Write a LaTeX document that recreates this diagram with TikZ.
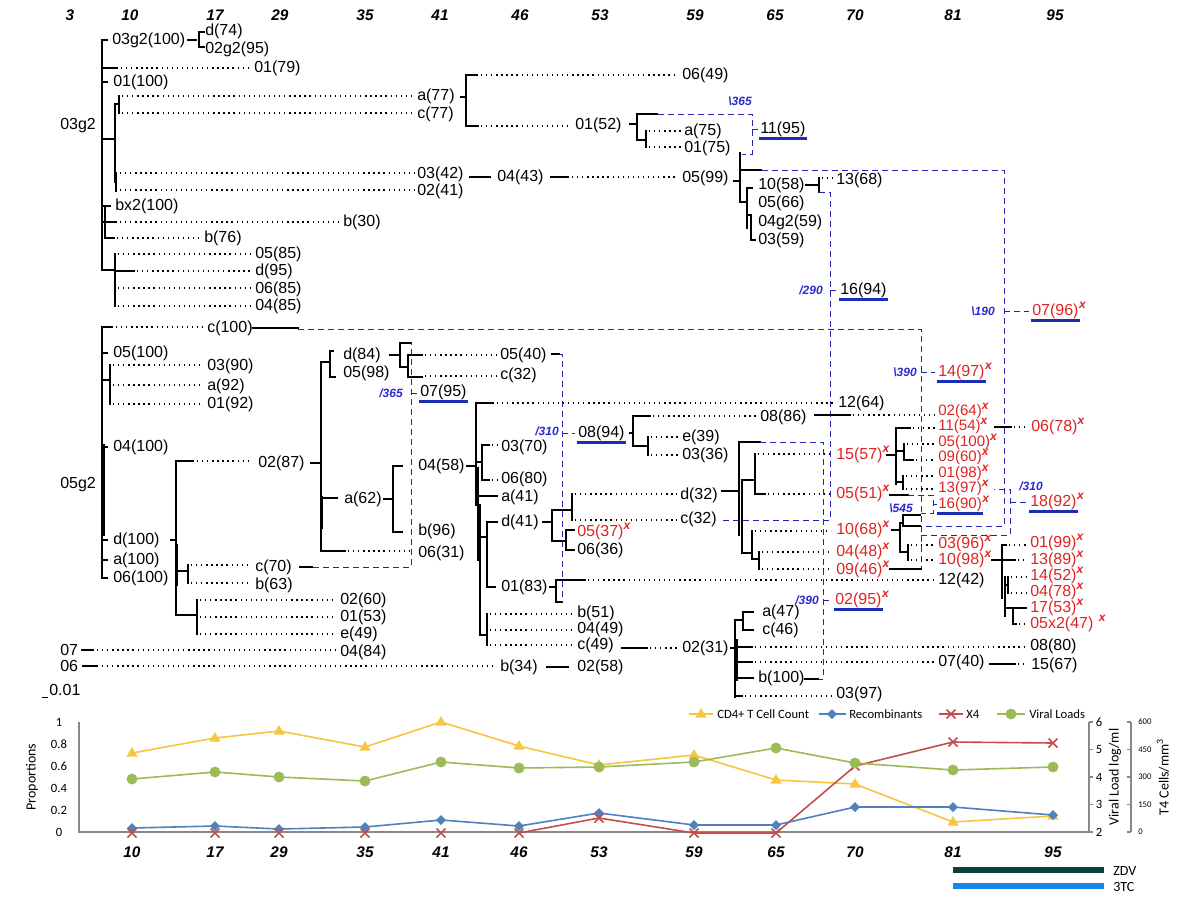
\documentclass[tikz,border=0pt]{standalone}
\usepackage{fontspec}
\setmainfont{Liberation Sans}
\newfontfamily\calfont{Carlito}
\definecolor{dblue}{HTML}{2525B0}
\definecolor{ublue}{HTML}{1C2DB5}
\definecolor{bltxt}{HTML}{2A2ACF}
\definecolor{rtxt}{HTML}{E02424}
\definecolor{ycol}{HTML}{F7C53F}
\definecolor{bcol}{HTML}{4F81BD}
\definecolor{rcol}{HTML}{C0504D}
\definecolor{gcol}{HTML}{9BBB59}
\definecolor{axcol}{HTML}{888888}
\definecolor{zdv}{HTML}{0C3F3C}
\definecolor{ttc}{HTML}{1A85E8}
\newcommand\sx{\smash{\raisebox{0.42em}{\fontsize{9}{9}\selectfont\bfseries\itshape x}}}
\newcommand\ulab[5]{\node[lab,text=#3] (#1) at (#2) {#4};\node[lab,text=#3,anchor=base west] (#1s) at (#1.base east) {#5};\draw[ul] ([xshift=-1pt,yshift=-1.3pt]#1.south west) -- ([xshift=1pt,yshift=-1.3pt]#1.south east);}
\tikzset{
 br/.style={line width=1.6pt, line cap=rect},
 dt/.style={line width=1pt, dash pattern=on 1pt off 2.8pt},
 ds/.style={draw=dblue, line width=0.75pt, dash pattern=on 4.5pt off 3pt},
 ul/.style={draw=ublue, line width=1.8pt},
 lab/.style={font=\fontsize{12}{14}\selectfont, inner sep=0pt, anchor=west},
 rl/.style={lab, text=rtxt},
 rs/.style={rl, font=\fontsize{11.3}{13}\selectfont},
 bln/.style={font=\fontsize{9}{10}\selectfont\bfseries\itshape, text=bltxt, inner sep=0pt},
 hdr/.style={font=\fontsize{11.5}{13}\selectfont\bfseries\itshape, inner sep=0pt},
 cl/.style={font=\calfont\fontsize{9.5}{11}\selectfont, inner sep=0pt},
 ct/.style={font=\calfont\fontsize{10.5}{12}\selectfont, inner sep=0pt},
 cls/.style={font=\calfont\fontsize{6.5}{8}\selectfont, inner sep=0pt},
 ax/.style={draw=axcol, line width=0.8pt},
}
\begin{document}
\begin{tikzpicture}[x=0.75pt,y=-0.75pt]
\path[use as bounding box, fill=white] (0,0) rectangle (1193,897);
% header
\foreach \x/\t in {70/3,130/10,215/17,280/29,365/35,440/41,520/46,600/53,695/59,775/65,855/70,953/81,1055/95}
  \node[hdr] (h\t) at (\x,15) {\t};
% ===== top cluster =====
\node[lab] (G1) at (60,126) {03g2};
\draw[br] (102,40) -- (102,270);
\draw[br] (102,40) -- (107,40);
\node[lab] (A1) at (112,40) {03g2(100)};
\draw[br] (188,40) -- (196,40);
\draw[br] (204,32) -- (199,32) -- (199,47) -- (204,47);
\node[lab] (A2) at (205,31) {d(74)};
\node[lab] (A3) at (205,49) {02g2(95)};
\draw[br] (102,68) -- (117,68);
\draw[dt] (121,68) -- (251,68);
\node[lab] (A4) at (254,68) {01(79)};
\draw[br] (102,82) -- (107,82);
\node[lab] (A5) at (113,82) {01(100)};
\draw[br] (102,139) -- (115,139) (115,104) -- (115,182) (115,104) -- (119,104) (119,96) -- (119,113) (116,173) -- (116,191);
\draw[dt] (122,96) -- (414,96) (122,113) -- (414,113) (120,173) -- (414,173) (120,190) -- (414,190);
\node[lab] (A6) at (417,96) {a(77)};
\node[lab] (A7) at (417,114) {c(77)};
\node[lab] (A8) at (417,174) {03(42)};
\node[lab] (A9) at (417,191) {02(41)};
\draw[br] (102,206) -- (110,206);
\node[lab] (A10) at (115,206) {bx2(100)};
\draw[br] (105,206) -- (105,238) -- (114,238);
\draw[dt] (117,238) -- (201,238);
\node[lab] (A11) at (204,238) {b(76)};
\draw[br] (102,222) -- (116,222);
\draw[dt] (120,222) -- (340,222);
\node[lab] (A12) at (343,222) {b(30)};
\draw[br] (102,270) -- (115,270) (115,254) -- (115,306) (115,271) -- (134,271);
\draw[dt] (118,254) -- (251,254) (137,271) -- (251,271) (118,288) -- (251,288) (118,306) -- (251,306);
\node[lab] (A13) at (255,254) {05(85)};
\node[lab] (A14) at (255,271) {d(95)};
\node[lab] (A15) at (255,289) {06(85)};
\node[lab] (A16) at (255,306) {04(85)};
% a(77) subtree
\draw[br] (461,97) -- (466,97) (466,75) -- (466,126) (466,75) -- (477,75) (466,126) -- (478,126);
\draw[dt] (481,75) -- (678,75) (481,126) -- (571,126);
\node[lab] (B1) at (682,75) {06(49)};
\node[lab] (B2) at (575,125) {01(52)};
\draw[br] (630,124) -- (637,124) (637,114) -- (637,140) (637,114) -- (657,114) (637,140) -- (646,140) (646,131) -- (646,147);
\draw[dt] (649,131) -- (681,131) (649,147) -- (681,147);
\node[lab] (B3) at (684,131) {a(75)};
\node[lab] (B4) at (684,148) {01(75)};
\draw[ds] (658,114) -- (752,114) -- (752,154) -- (742,154);
\node[bln] (L1) at (740,101) {\textbackslash 365};
\draw[ds] (752,129) -- (758,129);
\ulab{U1}{760,129}{black}{11(95)}{}
% 03(42) chain
\draw[br] (470,177) -- (490,177);
\node[lab] (C1) at (497,177) {04(43)};
\draw[br] (551,177) -- (568,177);
\draw[dt] (572,177) -- (678,177);
\node[lab] (C2) at (682,178) {05(99)};
\draw[br] (734,181) -- (740,181) (740,153) -- (740,202) (740,170) -- (761,170) (740,202) -- (747,202) (747,188) -- (747,228) (747,188) -- (752,188) (747,215) -- (751,215) (751,215) -- (751,240) -- (755,240);
\node[lab] (C3) at (758,185) {10(58)};
\node[lab] (C4) at (758,203) {05(66)};
\node[lab] (C5) at (758,222) {04g2(59)};
\node[lab] (C6) at (758,240) {03(59)};
\draw[br] (806,185) -- (819,185) (819,178) -- (819,192);
\draw[dt] (822,178) -- (834,178);
\node[lab] (C7) at (836,180) {13(68)};
\draw[ds] (762,170) -- (1004,170) -- (1004,526) -- (921,526);
\draw[ds] (819,192) -- (830,192) -- (830,520) -- (722,520);
\draw[ds] (830,290) -- (837,290);
\ulab{U2}{840,290}{black}{16(94)}{}
\node[bln] (L2) at (811,290) {/290};
\draw[ds] (1004,311) -- (1029,311);
\ulab{U3}{1032,311}{rtxt}{07(96)}{\sx}
\node[bln] (L3) at (983,311) {\textbackslash 190};
% ===== 05g2 cluster =====
\node[lab] (G2) at (60,485) {05g2};
\draw[br] (102,327) -- (102,578) (104,445) -- (104,535);
\draw[br] (102,327) -- (112,327);
\draw[dt] (116,327) -- (204,327);
\node[lab] (D1) at (207,328) {c(100)};
\draw[br] (253,328) -- (298,328);
\draw[ds] (298,329) -- (921,329) -- (921,569);
\draw[br] (102,353) -- (107,353);
\node[lab] (D2) at (113,353) {05(100)};
\draw[br] (102,380) -- (110,380) (110,365) -- (110,404);
\draw[dt] (113,365) -- (204,365) (113,385) -- (204,385) (113,404) -- (204,404);
\node[lab] (D3) at (207,366) {03(90)};
\node[lab] (D4) at (207,386) {a(92)};
\node[lab] (D5) at (207,404) {01(92)};
\draw[br] (102,447) -- (107,447);
\node[lab] (D6) at (113,447) {04(100)};
\draw[br] (102,540) -- (107,540) (102,560) -- (107,560) (102,578) -- (107,578);
\node[lab] (D7) at (113,540) {d(100)};
\node[lab] (D8) at (113,560) {a(100)};
\node[lab] (D9) at (113,578) {06(100)};
\draw[br] (171,540) -- (176,540) (176,461) -- (176,615) (177,545) -- (177,585);
\draw[br] (176,461) -- (193,461);
\draw[dt] (197,461) -- (249,461);
\node[lab] (D10) at (258,463) {02(87)};
\draw[br] (311,463) -- (320,463) (321,362) -- (321,551) (322,497) -- (322,528);
\draw[br] (321,362) -- (330,362) (330,351) -- (330,377) -- (335,377) (330,351) -- (333,351);
\node[lab] (D11) at (343,355) {d(84)};
\node[lab] (D12) at (343,373) {05(98)};
\draw[br] (390,355) -- (399,355) (400,343) -- (400,367) (400,343) -- (411,343) (400,367) -- (408,367) (408,355) -- (408,377) (408,355) -- (422,355) (408,377) -- (422,377);
\draw[dt] (425,355) -- (496,355) (425,376) -- (496,376);
\node[lab] (D13) at (500,355) {05(40)};
\node[lab] (D14) at (500,375) {c(32)};
\draw[ds] (313,567) -- (411,567) -- (411,343);
\draw[ds] (411,393) -- (418,393);
\ulab{U4}{420,392}{black}{07(95)}{}
\node[bln] (L4) at (391,393) {/365};
\draw[br] (321,498) -- (337,498);
\node[lab] (D15) at (344,499) {a(62)};
\draw[br] (384,499) -- (392,499) (393,466) -- (393,532) (393,466) -- (402,466) (393,532) -- (402,532);
\node[lab] (D16) at (418,466) {04(58)};
\node[lab] (D17) at (418,531) {b(96)};
\draw[br] (321,551) -- (345,551);
\draw[dt] (348,551) -- (413,551);
\node[lab] (D18) at (418,553) {06(31)};
\draw[br] (176,571) -- (187,571) (188,565) -- (188,583);
\draw[dt] (191,565) -- (251,565) (191,583) -- (251,583);
\node[lab] (D19) at (255,567) {c(70)};
\node[lab] (D20) at (255,585) {b(63)};
\draw[br] (300,567) -- (312,567);
\draw[br] (176,615) -- (196,615) (197,600) -- (197,634);
\draw[dt] (200,600) -- (336,600) (200,617) -- (336,617) (200,634) -- (336,634);
\node[lab] (D21) at (340,600) {02(60)};
\node[lab] (D22) at (340,617) {01(53)};
\node[lab] (D23) at (340,634) {e(49)};
\node[lab] (D24) at (60,650) {07};
\draw[br] (82,650) -- (93,650);
\draw[dt] (97,650) -- (336,650);
\node[lab] (D25) at (340,652) {04(84)};
\node[lab] (D26) at (60,666) {06};
\draw[br] (83,666) -- (97,666);
\draw[dt] (102,666) -- (496,666);
\node[lab] (D27) at (500,667) {b(34)};
\draw[br] (547,667) -- (568,667);
\node[lab] (D28) at (577,667) {02(58)};
\draw (42,697) -- (48,697);
\node[lab] (D29) at (49,690) {0.01};
% ===== 04(58) subtree =====
\draw[br] (467,466) -- (474,466) (476,403) -- (476,505) (478,468) -- (478,560) (480,505) -- (480,635);
\draw[br] (476,403) -- (493,403);
\draw[dt] (497,403) -- (834,403);
\node[lab] (E1) at (838,403) {12(64)};
\draw[br] (476,462) -- (482,462) (482,445) -- (482,480) (482,445) -- (489,445) (482,480) -- (489,480);
\draw[dt] (492,445) -- (498,445) (492,480) -- (498,480);
\node[lab] (E2) at (501,447) {03(70)};
\node[lab] (E3) at (501,479) {06(80)};
\draw[br] (478,496) -- (497,496);
\node[lab] (E4) at (501,497) {a(41)};
\draw[br] (480,537) -- (487,537) (487,522) -- (487,587) (487,522) -- (497,522) (487,587) -- (495,587);
\node[lab] (E5) at (501,522) {d(41)};
\node[lab] (E6) at (501,587) {01(83)};
\draw[br] (543,522) -- (551,522) (552,510) -- (552,541) (552,510) -- (572,510) (572,494) -- (572,520) (552,541) -- (566,541) (566,530) -- (566,550) (566,530) -- (574,530) (566,550) -- (574,550);
\draw[dt] (575,494) -- (677,494) (575,520) -- (677,520);
\node[lab] (E7) at (680,495) {d(32)};
\node[lab] (E8) at (680,519) {c(32)};
\node[rl] (E9) at (577,532) {05(37)\sx};
\node[lab] (E10) at (577,550) {06(36)};
\draw[br] (550,587) -- (556,587) (556,580) -- (556,602) (556,580) -- (585,580) (556,602) -- (562,602);
\draw[dt] (588,580) -- (935,580);
\node[lab] (E11) at (938,580) {12(42)};
\draw[br] (552,354) -- (559,354);
\draw[ds] (559,354) -- (562,354) -- (562,602);
\draw[ds] (562,433) -- (575,433);
\ulab{U5}{578,433}{black}{08(94)}{}
\node[bln] (L5) at (547,431) {/310};
\draw[br] (630,433) -- (633,433) (633,416) -- (633,446) (633,416) -- (650,416) (633,446) -- (648,446) (648,437) -- (648,455);
\draw[dt] (653,416) -- (757,416) (651,437) -- (679,437) (651,455) -- (679,455);
\node[lab] (E12) at (760,417) {08(86)};
\node[lab] (E13) at (682,437) {e(39)};
\node[lab] (E14) at (682,455) {03(36)};
\draw[br] (815,415) -- (850,415);
\draw[dt] (853,415) -- (935,415);
\node[rs] (E15) at (938,411.5) {02(64)\sx};
% d(32) subtree
\draw[br] (722,491) -- (738,491) (739,442) -- (739,535) (739,442) -- (760,442) (742,480) -- (742,553) (742,480) -- (755,480) (755,454) -- (755,494) (755,494) -- (765,494) (742,553) -- (752,553) (752,531) -- (752,559) (752,559) -- (759,559) (759,552) -- (759,569);
\draw[dt] (758,454) -- (831,454) (768,494) -- (831,494) (755,531) -- (831,531) (762,552) -- (831,552) (762,569) -- (831,569);
\node[rl] (F1) at (836,455) {15(57)\sx};
\node[rl] (F2) at (836,494) {05(51)\sx};
\node[rl] (F3) at (836,530) {10(68)\sx};
\node[rl] (F4) at (836,552) {04(48)\sx};
\node[rl] (F5) at (836,570) {09(46)\sx};
\draw[ds] (760,442) -- (823,442) -- (823,679) -- (818,679);
\draw[ds] (823,600) -- (831,600);
\ulab{U6}{835,600}{rtxt}{02(95)}{\sx}
\node[bln] (L6) at (807,600) {/390};
% 15(57) subtree
\draw[br] (887,455) -- (896,455) (896,428) -- (896,484) (896,428) -- (910,428) (896,451) -- (904,451) (904,444) -- (904,460) (904,460) -- (913,460) (896,482) -- (903,482) (903,476) -- (903,489);
\draw[dt] (913,428) -- (935,428) (907,444) -- (935,444) (916,460) -- (935,460) (906,476) -- (935,476) (906,489) -- (935,489);
\node[rs] (F6) at (938,427) {11(54)\sx};
\node[rs] (F7) at (938,442.5) {05(100)\sx};
\node[rs] (F8) at (938,458) {09(60)\sx};
\node[rs] (F9) at (938,473.5) {01(98)\sx};
\node[rs] (F10) at (938,489) {13(97)\sx};
\draw[br] (890,495) -- (908,495);
\draw[ds] (908,495) -- (933,495) -- (933,513) -- (921,513);
\draw[ds] (933,504) -- (937,504);
\node[rs] (U7) at (938,504.5) {16(90)};
\node[rs,anchor=base west] (U7s) at (U7.base east) {\sx};
\draw[ul] ([xshift=-1pt,yshift=-1.3pt]U7.south west) -- ([xshift=1pt,yshift=-1.3pt]U7.south east);
\node[bln] (L7) at (901,508) {\textbackslash 545};
% 10(68) subtree
\draw[br] (892,530) -- (900,530) (900,523) -- (900,552) (900,523) -- (903,523) (903,515) -- (903,526) (903,515) -- (920,515) (903,526) -- (920,526) (900,552) -- (908,552) (908,545) -- (908,560);
\draw[dt] (911,545) -- (935,545) (911,560) -- (935,560);
\node[rl] (F11) at (938,544) {03(96)\sx};
\node[rl] (F12) at (938,560) {10(98)\sx};
\draw[ds] (921,535) -- (1010,535) -- (1010,489) -- (994,489);
\draw[ds] (1010,502) -- (1026,502);
\ulab{U8}{1030,502}{rtxt}{18(92)}{\sx}
\node[bln] (L8) at (1031,486) {/310};
\draw[br] (890,569) -- (921,569);
\draw[ds] (921,372) -- (935,372);
\ulab{U9}{938,372}{rtxt}{14(97)}{\sx}
\node[bln] (L9) at (905,372) {\textbackslash 390};
% 11(54) -> 06(78)
\draw[br] (995,427) -- (1011,427);
\draw[dt] (1014,427) -- (1028,427);
\node[rl] (F13) at (1031,427) {06(78)\sx};
% 10(98) subtree
\draw[br] (992,560) -- (1002,560) (1002,545) -- (1002,598) (1005,577) -- (1005,616) (1002,545) -- (1006,545) (1002,560) -- (1015,560) (1005,585) -- (1008,585) (1008,577) -- (1008,593) (1005,608) -- (1026,608) (1013,608) -- (1013,624) -- (1016,624);
\draw[dt] (1009,545) -- (1027,545) (1018,560) -- (1027,560) (1011,577) -- (1027,577) (1011,593) -- (1027,593) (1019,624) -- (1027,624);
\node[rl] (F14) at (1030,543) {01(99)\sx};
\node[rl] (F15) at (1030,560) {13(89)\sx};
\node[rl] (F16) at (1030,576) {14(52)\sx};
\node[rl] (F17) at (1030,592) {04(78)\sx};
\node[rl] (F18) at (1030,608) {17(53)\sx};
\node[rl] (F19) at (1030,624) {05x2(47)\hspace{4pt}\sx};
% c(49) group and 02(31)
\draw[br] (480,635) -- (487,635) (487,614) -- (487,645);
\draw[dt] (490,614) -- (573,614) (490,630) -- (573,630) (490,645) -- (573,645);
\node[lab] (H1) at (577,613) {b(51)};
\node[lab] (H2) at (577,629) {04(49)};
\node[lab] (H3) at (577,645) {c(49)};
\draw[br] (622,648) -- (647,648);
\draw[dt] (650,648) -- (679,648);
\node[lab] (H4) at (682,648) {02(31)};
\draw[br] (731,648) -- (735,648) (735,620) -- (735,697) (737,640) -- (737,680) (735,620) -- (743,620) (743,612) -- (743,630) (743,612) -- (753,612) (743,630) -- (753,630) (737,647) -- (752,647) (737,662) -- (752,662) (737,678) -- (753,678) (735,696) -- (742,696);
\node[lab] (H5) at (762,612) {a(47)};
\node[lab] (H6) at (762,630) {c(46)};
\draw[dt] (755,647) -- (1027,647) (755,662) -- (935,662) (745,696) -- (832,696);
\node[lab] (H7) at (1030,646) {08(80)};
\node[lab] (H8) at (938,662) {07(40)};
\node[lab] (H9) at (758,678) {b(100)};
\node[lab] (H10) at (836,694) {03(97)};
\draw[br] (805,679) -- (818,679);
\draw[br] (990,664) -- (1015,664);
\draw[dt] (1018,664) -- (1028,664);
\node[lab] (H11) at (1031,665) {15(67)};
% ===== chart =====
\draw[ax] (79,722) -- (79,832) -- (1089,832);
\draw[ax] (1089,722) -- (1089,832);
\foreach \y in {722,749.5,777,804.5,832} \draw[ax] (1089,\y) -- (1093,\y);
\draw[ax] (1131,722) -- (1131,832);
\foreach \y in {722,749.5,777,804.5,832} \draw[ax] (1127,\y) -- (1131,\y);
\foreach \y/\t [count=\i] in {722/1,744/0.8,766/0.6,788/0.4,810/0.2,832/0} \node[cl] (pl\i) at (59,\y) {\t};
\foreach \y/\t [count=\i] in {722/6,749.5/5,777/4,804.5/3,832/2} \node[cl] (vr\i) at (1099,\y) {\t};
\foreach \y/\t [count=\i] in {722/600,749.5/450,777/300,804.5/150,832/0} \node[cls,anchor=west] (tr\i) at (1138,\y) {\t};
\node[ct,rotate=90] (pp) at (32,777) {Proportions};
\node[ct,rotate=90] (vl) at (1115,777) {Viral Load log/ml};
\node[ct,rotate=90] (tc) at (1163,777) {T4 Cells/mm\textsuperscript{3}};
\foreach \x/\t in {132/10,215/17,279/29,365/35,441/41,519/46,599/53,694/59,776/65,855/70,953/81,1053/95}
  \node[hdr] (b\t) at (\x,852) {\t};
% series
\draw[ycol,line width=1.2pt] plot coordinates {(132,753) (215,738) (279,731) (365,747) (441,722) (519,746) (599,765) (694,755) (776,780) (855,784) (953,822) (1053,816)};
\foreach \x/\y in {132/753,215/738,279/731,365/747,441/722,519/746,599/765,694/755,776/780,855/784,953/822,1053/816}
  \fill[ycol] (\x,\y) ++(0,-6) -- ++(5.5,9.5) -- ++(-11,0) -- cycle;
\draw[bcol,line width=1.2pt] plot coordinates {(132,828) (215,826) (279,829) (365,827) (441,820) (519,826) (599,813) (694,825) (776,825) (855,807) (953,807) (1053,815)};
\foreach \x/\y in {132/828,215/826,279/829,365/827,441/820,519/826,599/813,694/825,776/825,855/807,953/807,1053/815}
  \fill[bcol] (\x,\y) ++(0,-5) -- ++(5,5) -- ++(-5,5) -- ++(-5,-5) -- cycle;
\draw[rcol,line width=1.2pt] plot coordinates {(519,833) (599,818) (694,833) (776,833) (855,766) (953,742) (1053,743)};
\foreach \x/\y in {132/833,215/833,279/833,365/833,441/833,519/833,599/818,694/833,776/833,855/766,953/742,1053/743}
  \draw[rcol,line width=1.2pt] (\x,\y) ++(-4.5,-4.5) -- ++(9,9) ++(0,-9) -- ++(-9,9);
\draw[gcol,line width=1.2pt] plot coordinates {(132,779) (215,772) (279,777) (365,781) (441,762) (519,768) (599,767) (694,762) (776,748) (855,763) (953,770) (1053,767)};
\foreach \x/\y in {132/779,215/772,279/777,365/781,441/762,519/768,599/767,694/762,776/748,855/763,953/770,1053/767}
  \fill[gcol] (\x,\y) circle (4.1pt);
% legend
\draw[ycol,line width=1.2pt] (689,714) -- (713,714);
\fill[ycol] (701,714) ++(0,-6) -- ++(5.5,9.5) -- ++(-11,0) -- cycle;
\node[cl,anchor=west] (lg1) at (717,714) {CD4+ T Cell Count};
\draw[bcol,line width=1.2pt] (819,714) -- (846,714);
\fill[bcol] (832,714) ++(0,-5) -- ++(5,5) -- ++(-5,5) -- ++(-5,-5) -- cycle;
\node[cl,anchor=west] (lg2) at (849,714) {Recombinants};
\draw[rcol,line width=1.2pt] (939,714) -- (963,714);
\draw[rcol,line width=1.2pt] (951,714) ++(-4.5,-4.5) -- ++(9,9) ++(0,-9) -- ++(-9,9);
\node[cl,anchor=west] (lg3) at (966,714) {X4};
\draw[gcol,line width=1.2pt] (997,714) -- (1025,714);
\fill[gcol] (1011,714) circle (4.1pt);
\node[cl,anchor=west] (lg4) at (1029,714) {Viral Loads};
% drug bars
\draw[zdv,line width=4pt] (953,870) -- (1104,870);
\node[ct,anchor=west] (zd) at (1113,871) {ZDV};
\draw[ttc,line width=4pt] (953,886) -- (1104,886);
\node[ct,anchor=west] (tt) at (1113,887) {3TC};
\end{tikzpicture}
\end{document}
